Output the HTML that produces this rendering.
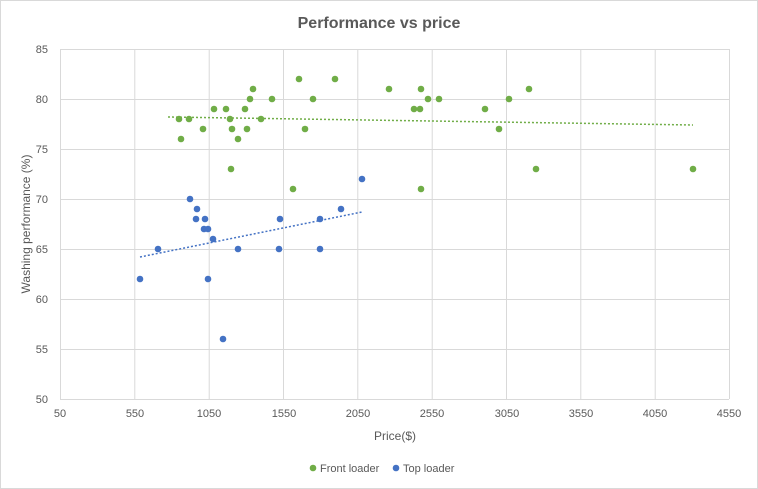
<!DOCTYPE html>
<html><head><meta charset="utf-8"><style>
body{margin:0;background:#fff}
svg{display:block;font-family:"Liberation Sans",sans-serif}
</style></head><body>
<svg width="758" height="489" viewBox="0 0 758 489" xmlns="http://www.w3.org/2000/svg">
<rect x="0.5" y="0.5" width="757" height="488" fill="#fff" stroke="#d9d9d9"/>
<text x="379" y="28" text-anchor="middle" font-size="16" font-weight="bold" fill="#595959">Performance vs price</text>
<g stroke="#d9d9d9" stroke-width="1">
<line x1="60" y1="49.5" x2="729" y2="49.5"/><line x1="60" y1="99.5" x2="729" y2="99.5"/><line x1="60" y1="149.5" x2="729" y2="149.5"/><line x1="60" y1="199.5" x2="729" y2="199.5"/><line x1="60" y1="249.5" x2="729" y2="249.5"/><line x1="60" y1="299.5" x2="729" y2="299.5"/><line x1="60" y1="349.5" x2="729" y2="349.5"/><line x1="60" y1="399.5" x2="729" y2="399.5"/>
<line x1="60.5" y1="49" x2="60.5" y2="399"/><line x1="134.8" y1="49" x2="134.8" y2="399"/><line x1="209.2" y1="49" x2="209.2" y2="399"/><line x1="283.5" y1="49" x2="283.5" y2="399"/><line x1="357.8" y1="49" x2="357.8" y2="399"/><line x1="432.2" y1="49" x2="432.2" y2="399"/><line x1="506.5" y1="49" x2="506.5" y2="399"/><line x1="580.8" y1="49" x2="580.8" y2="399"/><line x1="655.2" y1="49" x2="655.2" y2="399"/><line x1="729.5" y1="49" x2="729.5" y2="399"/>
</g>
<g font-size="11" fill="#595959" text-anchor="end">
<text x="48" y="53">85</text><text x="48" y="103">80</text><text x="48" y="153">75</text><text x="48" y="203">70</text><text x="48" y="253">65</text><text x="48" y="303">60</text><text x="48" y="353">55</text><text x="48" y="403">50</text>
</g>
<g font-size="11" fill="#595959" text-anchor="middle">
<text x="60" y="417">50</text><text x="135" y="417">550</text><text x="209" y="417">1050</text><text x="284" y="417">1550</text><text x="358" y="417">2050</text><text x="432" y="417">2550</text><text x="507" y="417">3050</text><text x="581" y="417">3550</text><text x="655" y="417">4050</text><text x="729" y="417">4550</text>
</g>
<text x="395" y="440" text-anchor="middle" font-size="12" fill="#595959">Price($)</text>
<text transform="translate(30,224) rotate(-90)" text-anchor="middle" font-size="12" fill="#595959">Washing performance (%)</text>
<line x1="168" y1="117" x2="693" y2="125" stroke="#70ad47" stroke-width="1.5" stroke-dasharray="2,2"/>
<line x1="140" y1="257" x2="362" y2="212" stroke="#4472c4" stroke-width="1.5" stroke-dasharray="2,2"/>
<g fill="#70ad47">
<circle cx="179" cy="119" r="3.3"/><circle cx="181" cy="139" r="3.3"/><circle cx="189" cy="119" r="3.3"/><circle cx="203" cy="129" r="3.3"/><circle cx="214" cy="109" r="3.3"/><circle cx="226" cy="109" r="3.3"/><circle cx="230" cy="119" r="3.3"/><circle cx="231" cy="169" r="3.3"/><circle cx="232" cy="129" r="3.3"/><circle cx="238" cy="139" r="3.3"/><circle cx="245" cy="109" r="3.3"/><circle cx="247" cy="129" r="3.3"/><circle cx="250" cy="99" r="3.3"/><circle cx="253" cy="89" r="3.3"/><circle cx="261" cy="119" r="3.3"/><circle cx="272" cy="99" r="3.3"/><circle cx="293" cy="189" r="3.3"/><circle cx="299" cy="79" r="3.3"/><circle cx="305" cy="129" r="3.3"/><circle cx="313" cy="99" r="3.3"/><circle cx="335" cy="79" r="3.3"/><circle cx="389" cy="89" r="3.3"/><circle cx="414" cy="109" r="3.3"/><circle cx="420" cy="109" r="3.3"/><circle cx="421" cy="89" r="3.3"/><circle cx="421" cy="189" r="3.3"/><circle cx="428" cy="99" r="3.3"/><circle cx="439" cy="99" r="3.3"/><circle cx="485" cy="109" r="3.3"/><circle cx="499" cy="129" r="3.3"/><circle cx="509" cy="99" r="3.3"/><circle cx="529" cy="89" r="3.3"/><circle cx="536" cy="169" r="3.3"/><circle cx="693" cy="169" r="3.3"/>
</g>
<g fill="#4472c4">
<circle cx="140" cy="279" r="3.3"/><circle cx="158" cy="249" r="3.3"/><circle cx="190" cy="199" r="3.3"/><circle cx="196" cy="219" r="3.3"/><circle cx="197" cy="209" r="3.3"/><circle cx="204" cy="229" r="3.3"/><circle cx="205" cy="219" r="3.3"/><circle cx="208" cy="229" r="3.3"/><circle cx="208" cy="279" r="3.3"/><circle cx="213" cy="239" r="3.3"/><circle cx="223" cy="339" r="3.3"/><circle cx="238" cy="249" r="3.3"/><circle cx="280" cy="219" r="3.3"/><circle cx="279" cy="249" r="3.3"/><circle cx="320" cy="219" r="3.3"/><circle cx="320" cy="249" r="3.3"/><circle cx="341" cy="209" r="3.3"/><circle cx="362" cy="179" r="3.3"/>
</g>
<circle cx="313" cy="468" r="3.3" fill="#70ad47"/>
<text x="320" y="472" font-size="11" fill="#595959">Front loader</text>
<circle cx="396" cy="468" r="3.3" fill="#4472c4"/>
<text x="403" y="472" font-size="11" fill="#595959">Top loader</text>
</svg>
</body></html>
